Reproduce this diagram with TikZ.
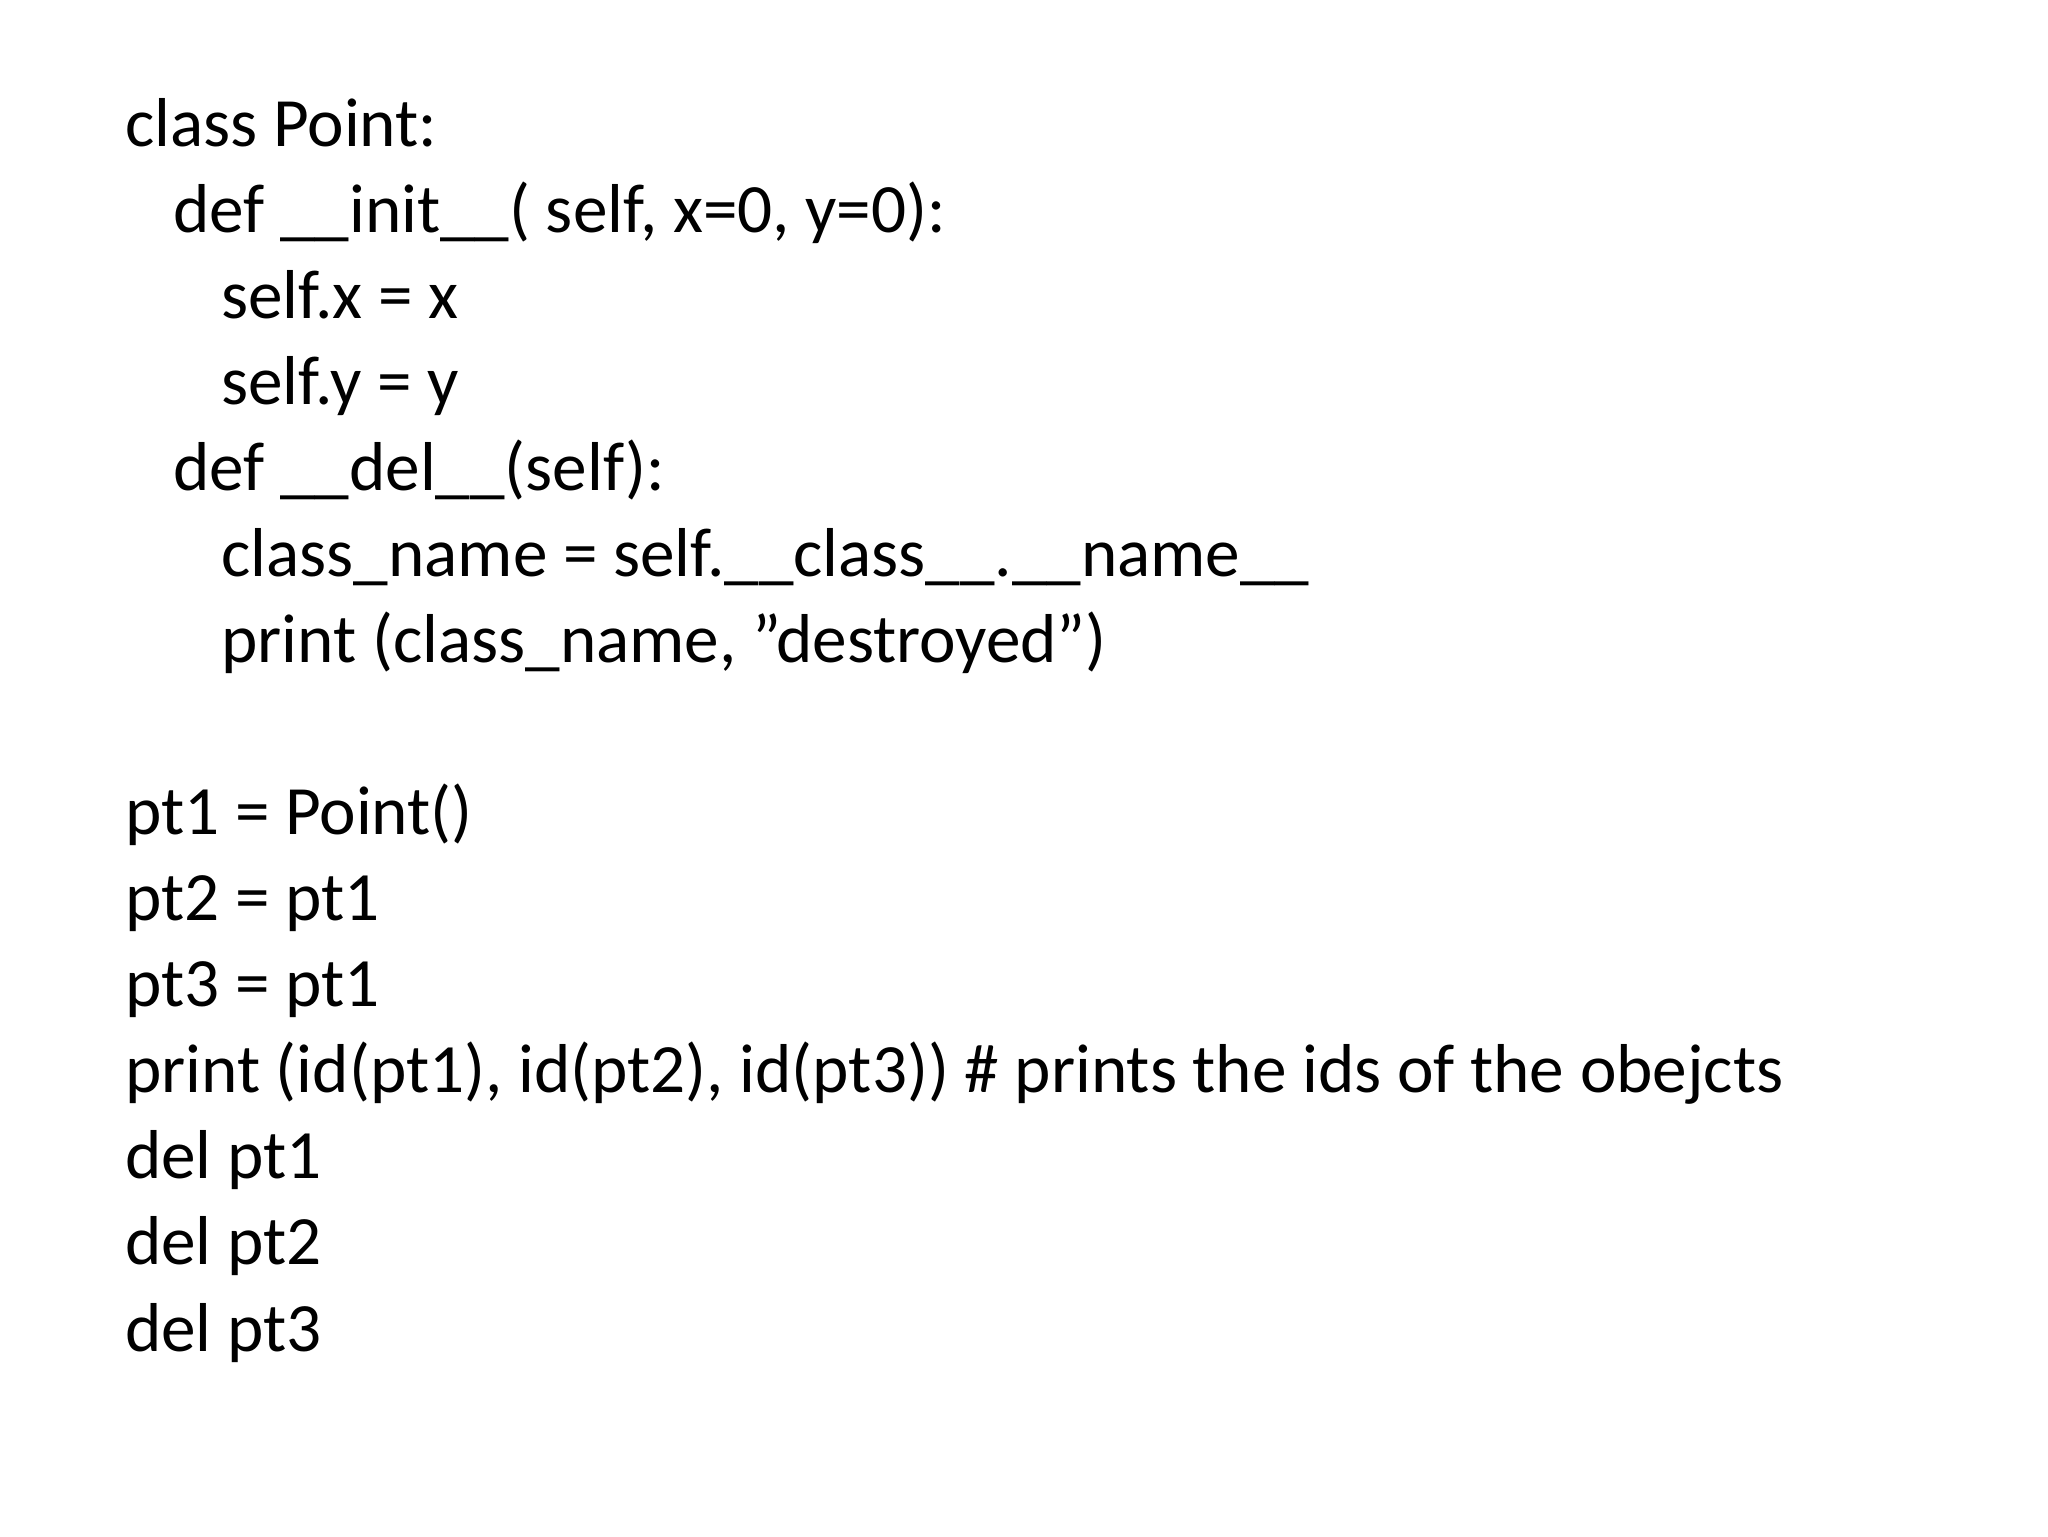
\documentclass[tikz,border=0pt]{standalone}
\usepackage{fontspec}
\setmainfont{Carlito}
\begin{document}
\begin{tikzpicture}[x=1pt,y=1pt,
  code/.style={anchor=base west,inner sep=0pt,font=\fontsize{34.6}{40}\selectfont}]
\useasboundingbox (0,0) rectangle (1024,768);
\def\q{\symbol{34}}
\node[code] (l1) at (62.4,694.5) {class Point:};
\node[code] (l2) at (86.5,651.5) {def \_\_init\_\_( self, x=0, y=0):};
\node[code] (l3) at (110.5,608.5) {self.x = x};
\node[code] (l4) at (110.5,565.5) {self.y = y};
\node[code] (l5) at (86.5,522.5) {def \_\_del\_\_(self):};
\node[code] (l6) at (110.5,479.5) {class\_name = self.\_\_class\_\_.\_\_name\_\_};
\node[code] (l7) at (110.5,436.5) {print (class\_name, \q destroyed\q)};
\node[code] (l8) at (62.4,350.5) {pt1 = Point()};
\node[code] (l9) at (62.4,307.5) {pt2 = pt1};
\node[code] (l10) at (62.4,264.5) {pt3 = pt1};
\node[code] (l11) at (62.4,221.5) {print (id(pt1), id(pt2), id(pt3)) \# prints the ids of the obejcts};
\node[code] (l12) at (62.4,178.5) {del pt1};
\node[code] (l13) at (62.4,135.5) {del pt2};
\node[code] (l14) at (62.4,92.5) {del pt3};
\end{tikzpicture}
\end{document}
